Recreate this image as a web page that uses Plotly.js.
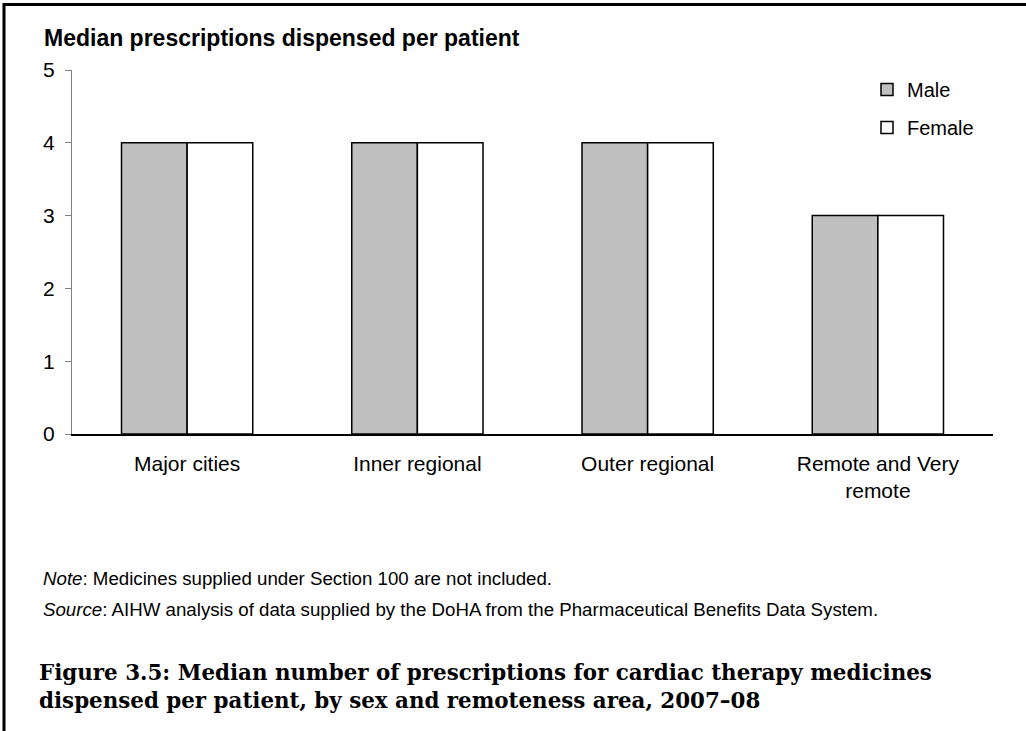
<!DOCTYPE html>
<html>
<head>
<meta charset="utf-8">
<script src="https://cdn.plot.ly/plotly-3.0.1.min.js"></script>
<style>html,body{margin:0;padding:0;background:#fff;}</style>
</head>
<body>
<div id="chart" style="width:1026px;height:731px;"></div>
<script>
const categories = ["Major cities", "Inner regional", "Outer regional", "Remote and Very<br>remote"];
const maleValues = [4, 4, 4, 3];
const femaleValues = [4, 4, 4, 3];
const seriesNames = ["Male", "Female"];
const yTicks = [0, 1, 2, 3, 4, 5];

const W = 1026, H = 731;
const L = 72, R = 33, T = 70, B = 297;
const pw = W - L - R, ph = H - T - B;
const px2x = p => (p - L) / pw;
const px2y = p => 1 - (p - T) / ph;

const sans = "Liberation Sans, Arial, sans-serif";

const traces = [
  {type: "bar", name: seriesNames[0], x: categories, y: maleValues, legendgroup: "m",
   marker: {color: "#c0c0c0", line: {color: "#000", width: 1.5}}, hoverinfo: "skip"},
  {type: "bar", name: seriesNames[1], x: categories, y: femaleValues, legendgroup: "f",
   marker: {color: "#ffffff", line: {color: "#000", width: 1.5}}, hoverinfo: "skip"}
];

const layout = {
  width: W, height: H,
  margin: {l: L, r: R, t: T, b: B, pad: 0},
  paper_bgcolor: "#fff", plot_bgcolor: "#fff",
  barmode: "group", bargap: 0.43, bargroupgap: 0,
  font: {family: sans, size: 21, color: "#000"},
  showlegend: true,
  legend: {x: px2x(867), y: px2y(70), xanchor: "left", yanchor: "top",
           font: {family: sans, size: 20, color: "#000"}, bgcolor: "rgba(0,0,0,0)",
           traceorder: "grouped", tracegroupgap: 9, itemwidth: 30},
  xaxis: {showline: true, linecolor: "#000", linewidth: 1.5, ticks: "", showgrid: false,
          zeroline: false, tickfont: {family: sans, size: 21}, ticklabelstandoff: 10},
  yaxis: {range: [0, 5], tickvals: yTicks, showline: true, linecolor: "#808080", linewidth: 1,
          ticks: "outside", ticklen: 6, tickcolor: "#808080", showgrid: false, zeroline: false,
          tickfont: {family: sans, size: 21}, ticklabelstandoff: 6},
  annotations: [
    {xref: "paper", yref: "paper", x: px2x(42), y: px2y(38), xanchor: "left", yanchor: "middle",
     text: "<b>Median prescriptions dispensed per patient</b>", showarrow: false,
     font: {family: sans, size: 23, color: "#000"}},
    {xref: "paper", yref: "paper", x: px2x(41), y: px2y(578), xanchor: "left", yanchor: "middle",
     text: "<i>Note</i>: Medicines supplied under Section 100 are not included.", showarrow: false,
     font: {family: sans, size: 18.7, color: "#000"}},
    {xref: "paper", yref: "paper", x: px2x(41), y: px2y(609), xanchor: "left", yanchor: "middle",
     text: "<i>Source</i>: AIHW analysis of data supplied by the DoHA from the Pharmaceutical Benefits Data System.", showarrow: false,
     font: {family: sans, size: 18.7, color: "#000"}},
    {xref: "paper", yref: "paper", x: px2x(37), y: px2y(686), xanchor: "left", yanchor: "middle", align: "left",
     text: "<b>Figure 3.5: Median number of prescriptions for cardiac therapy medicines<br>dispensed per patient, by sex and remoteness area, 2007–08</b>", showarrow: false,
     font: {family: "DejaVu Serif, serif", size: 21.4, color: "#000"}}
  ],
  shapes: [
    {type: "line", xref: "paper", yref: "paper", x0: px2x(3), x1: px2x(1026), y0: px2y(4.5), y1: px2y(4.5),
     line: {color: "#000", width: 3}},
    {type: "line", xref: "paper", yref: "paper", x0: px2x(4), x1: px2x(4), y0: px2y(3), y1: px2y(731),
     line: {color: "#000", width: 3}}
  ]
};

Plotly.newPlot("chart", traces, layout, {staticPlot: true, displayModeBar: false});
</script>
</body>
</html>
